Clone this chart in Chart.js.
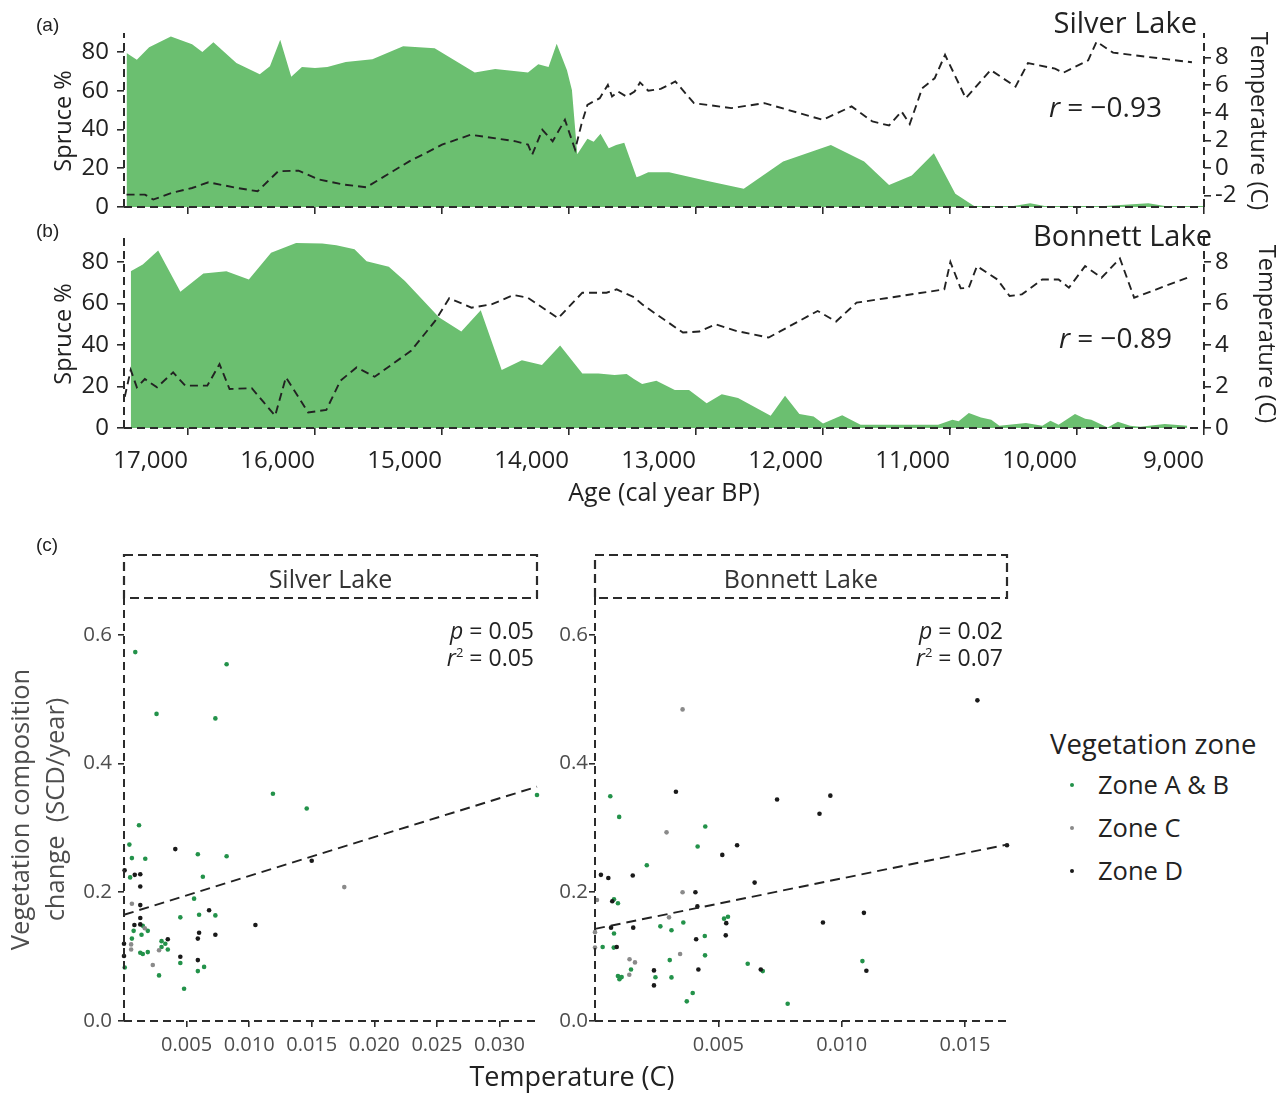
<!DOCTYPE html>
<html>
<head>
<meta charset="utf-8">
<script src="https://cdn.jsdelivr.net/npm/chart.js@4.4.1/dist/chart.umd.min.js"></script>
<style>
body { margin: 0; background: #fff; width: 1288px; height: 1093px; position: relative; overflow: hidden; font-family: "Open Sans", sans-serif; color: #222; }
canvas { position: absolute; }
.lab { position: absolute; white-space: nowrap; line-height: 1; }
.tag { font-family: "Liberation Sans", Arial, sans-serif; font-size: 19px; }
.dot { position: absolute; width: 4px; height: 4px; border-radius: 50%; }
</style>
</head>
<body>
<canvas id="cA" width="1288" height="215" style="left:0;top:0"></canvas>
<canvas id="cB" width="1288" height="300" style="left:0;top:215px"></canvas>
<canvas id="cS" width="560" height="553" style="left:0;top:540px"></canvas>
<canvas id="cN" width="500" height="553" style="left:540px;top:540px"></canvas>

<div class="lab tag" style="left:36px;top:15px">(a)</div>
<div class="lab tag" style="left:36px;top:221px">(b)</div>
<div class="lab tag" style="left:36px;top:535px">(c)</div>

<div class="lab" style="right:91px;top:7px;font-size:29px">Silver Lake</div>
<div class="lab" style="right:126px;top:92px;font-size:28px"><i>r</i> = −0.93</div>
<div class="lab" style="right:76px;top:220px;font-size:29px">Bonnett Lake</div>
<div class="lab" style="right:116px;top:323px;font-size:28px"><i>r</i> = −0.89</div>

<div class="lab" style="right:754px;top:619px;font-size:23px"><i>p</i> = 0.05</div>
<div class="lab" style="right:754px;top:646px;font-size:23px"><i>r</i><sup style="font-size:13px">2</sup> = 0.05</div>
<div class="lab" style="right:285px;top:619px;font-size:23px"><i>p</i> = 0.02</div>
<div class="lab" style="right:285px;top:646px;font-size:23px"><i>r</i><sup style="font-size:13px">2</sup> = 0.07</div>

<div class="lab" style="left:572px;top:1062px;font-size:27px;transform:translateX(-50%)">Temperature (C)</div>

<div class="lab" style="left:1050px;top:730px;font-size:27.5px">Vegetation zone</div>
<div class="dot" style="left:1070px;top:783px;background:#23924a"></div>
<div class="lab" style="left:1098px;top:772px;font-size:25.5px">Zone A &amp; B</div>
<div class="dot" style="left:1070px;top:826px;background:#8a8a8a"></div>
<div class="lab" style="left:1098px;top:815px;font-size:25.5px">Zone C</div>
<div class="dot" style="left:1070px;top:869px;background:#1a1a1a"></div>
<div class="lab" style="left:1098px;top:858px;font-size:25.5px">Zone D</div>

<script>
// tick values
const ageTicks = [17000, 16000, 15000, 14000, 13000, 12000, 11000, 10000, 9000];
const spruceTicks = [0, 20, 40, 60, 80];
const silverTempTicks = [-2, 0, 2, 4, 6, 8];
const bonnettTempTicks = [0, 2, 4, 6, 8];
const scdTicks = [0, 0.2, 0.4, 0.6];
const silverDiffTicks = [0.005, 0.010, 0.015, 0.020, 0.025, 0.030];
const bonnettDiffTicks = [0.005, 0.010, 0.015];

// (a) Silver Lake
const silverSpruceAge = [17484, 17403, 17306, 17135, 16968, 16887, 16800, 16619, 16435, 16355, 16274, 16187, 16103, 16000, 15903, 15758, 15548, 15306, 15058, 14742, 14581, 14323, 14242, 14161, 14097, 14016, 13977, 13935, 13855, 13806, 13752, 13687, 13629, 13565, 13468, 13441, 13376, 13212, 12918, 12624, 12314, 11938, 11676, 11480, 11301, 11127, 10958, 10810, 10500, 10369, 10255, 9781, 9438, 9307, 8997];
const silverSpruce = [79.5, 76, 82.5, 88, 84, 80, 85, 74.4, 68.6, 72.7, 86.3, 67.2, 72.3, 71.8, 72.3, 74.9, 76.3, 83, 82, 69.4, 71.3, 69.4, 73.7, 72.3, 84.3, 70.6, 60.4, 27.2, 35.2, 33.7, 37.8, 30.3, 32, 33.2, 15.3, 16, 17.9, 17.9, 13.6, 9.4, 23.5, 32, 23.5, 11.4, 16.2, 27.7, 6.8, 0.5, 0.5, 2, 0.5, 0.5, 2, 0.5, 0.5];
const silverTempAge = [17484, 17339, 17274, 17129, 16968, 16839, 16613, 16452, 16290, 16129, 15968, 15774, 15597, 15387, 15258, 15129, 15000, 14774, 14419, 14323, 14290, 14210, 14129, 14032, 13952, 13903, 13855, 13758, 13694, 13661, 13613, 13548, 13484, 13441, 13376, 13278, 13163, 13016, 12722, 12461, 12003, 11775, 11611, 11480, 11382, 11317, 11219, 11121, 11039, 10876, 10680, 10484, 10386, 10173, 10108, 9912, 9846, 9716, 9095];
const silverTemp = [-1.93, -1.93, -2.29, -1.81, -1.45, -1.04, -1.45, -1.69, -0.24, -0.19, -0.84, -1.2, -1.4, -0.24, 0.48, 1.08, 1.69, 2.41, 1.93, 1.69, 0.96, 2.77, 1.93, 3.49, 1.33, 3.13, 4.58, 5.06, 6.02, 5.18, 5.54, 5.18, 5.54, 6.2, 5.6, 5.73, 6.27, 4.7, 4.34, 4.7, 3.49, 4.46, 3.37, 3.08, 4.1, 3.18, 5.78, 6.5, 8.2, 5.06, 7.1, 5.9, 7.6, 7.2, 6.9, 7.8, 9.16, 8.36, 7.66];

// (b) Bonnett Lake
const bonnettSpruceAge = [17451, 17356, 17235, 17060, 16879, 16698, 16521, 16346, 16149, 15943, 15832, 15689, 15594, 15419, 15292, 15022, 14848, 14695, 14530, 14371, 14213, 14070, 13895, 13768, 13641, 13546, 13489, 13424, 13312, 13167, 13055, 12916, 12797, 12669, 12412, 12299, 12186, 12074, 12000, 11849, 11704, 11093, 10981, 10932, 10852, 10756, 10675, 10611, 10402, 10273, 10209, 10145, 10016, 9936, 9887, 9759, 9678, 9582, 9502, 9309, 9132];
const bonnettSpruce = [75.6, 78.8, 85.6, 65.7, 74.4, 75.6, 71.6, 84.5, 89.1, 88.9, 88.1, 86.1, 80.4, 77.7, 70.8, 53.2, 46.5, 56.7, 27.9, 32.7, 30.4, 39.7, 26.3, 26.3, 25.6, 26, 23.6, 21.2, 22.8, 18.3, 18.3, 11.9, 16.3, 14.4, 5.9, 15.5, 6.7, 5.6, 2.2, 6.1, 1.6, 1.6, 4, 3.2, 7.2, 5.1, 4, 1.1, 2.4, 1.1, 3.5, 1.6, 6.7, 4.5, 4, 0.3, 3, 1.1, 0.6, 1.9, 1.1];
const bonnettTempAge = [17498, 17451, 17403, 17340, 17244, 17117, 17022, 16848, 16752, 16673, 16498, 16403, 16314, 16229, 16054, 15911, 15800, 15673, 15530, 15244, 15054, 14943, 14768, 14610, 14435, 14324, 14086, 13895, 13705, 13625, 13489, 13424, 13312, 13103, 12974, 12846, 12685, 12428, 12042, 11897, 11736, 11045, 10997, 10916, 10852, 10788, 10627, 10531, 10434, 10273, 10145, 10064, 9936, 9807, 9662, 9550, 9132];
const bonnettTemp = [1.5, 2.8, 1.96, 2.36, 1.96, 2.68, 2.04, 2.04, 3.08, 1.88, 1.92, 1.23, 0.59, 2.44, 0.75, 0.87, 2.28, 2.92, 2.47, 3.72, 5.16, 6.25, 5.8, 5.96, 6.41, 6.28, 5.29, 6.52, 6.52, 6.68, 6.31, 5.96, 5.48, 4.6, 4.65, 5.0, 4.68, 4.36, 5.64, 5.13, 6.04, 6.68, 8.0, 6.73, 6.76, 7.8, 7.16, 6.36, 6.44, 7.16, 7.16, 6.76, 7.8, 7.24, 8.17, 6.28, 7.24];

// (c) temperature change vs vegetation change, [x, y]
const silverZoneAB = [[0.0009, 0.573], [0.0082, 0.554], [0.0026, 0.477], [0.0073, 0.470], [0.0119, 0.353], [0.0146, 0.330], [0.0012, 0.304], [0.033, 0.351], [0.00043, 0.274], [0.00063, 0.253], [0.0017, 0.252], [0.0059, 0.259], [0.0082, 0.256], [0.00049, 0.223], [0.0063, 0.224], [0.0056, 0.190], [0.0045, 0.161], [0.006, 0.165], [0.0073, 0.164], [0.0015, 0.148], [0.0019, 0.140], [0.00077, 0.140], [0.0014, 0.134], [0.003, 0.124], [0.0033, 0.120], [0.003, 0.115], [0.0035, 0.111], [0.00063, 0.128], [0.0013, 0.106], [0.0015, 0.104], [0.0019, 0.107], [0.0045, 0.090], [0.00006, 0.083], [0.0064, 0.084], [0.0059, 0.0775], [0.0028, 0.0708], [0.0048, 0.050]];
const silverZoneC = [[0.0176, 0.208], [0.00063, 0.182], [0.00166, 0.144], [0.00057, 0.119], [0.00057, 0.111], [0.0028, 0.110], [0.0023, 0.087]];
const silverZoneD = [[0.0041, 0.267], [0.00005, 0.234], [0.00086, 0.227], [0.0013, 0.228], [0.0013, 0.209], [0.015, 0.249], [0.0013, 0.180], [0.0068, 0.172], [0.0013, 0.160], [0.00083, 0.149], [0.0013, 0.150], [0.0105, 0.149], [0.006, 0.137], [0.0059, 0.128], [0.0073, 0.134], [0.0035, 0.127], [0.0, 0.12], [0.0, 0.101], [0.0045, 0.0997], [0.0059, 0.0946]];
const silverFit = [[0, 0.165], [0.033, 0.364]];

const bonnettZoneAB = [[0.00062, 0.349], [0.00098, 0.317], [0.00447, 0.302], [0.00416, 0.271], [0.0021, 0.242], [0.00077, 0.189], [0.00093, 0.183], [0.00523, 0.159], [0.00539, 0.162], [0.00358, 0.153], [0.00265, 0.147], [0.0031, 0.141], [0.00077, 0.136], [0.00445, 0.132], [0.00031, 0.115], [0.00076, 0.114], [0.00446, 0.102], [0.00303, 0.0946], [0.00619, 0.089], [0.01084, 0.093], [0.0068, 0.0775], [0.00146, 0.080], [0.00093, 0.0698], [0.00108, 0.0682], [0.00099, 0.065], [0.00245, 0.068], [0.0031, 0.0677], [0.00396, 0.0434], [0.00372, 0.0305], [0.00781, 0.0269]];
const bonnettZoneC = [[0.00355, 0.484], [0.0029, 0.293], [0.00355, 0.200], [0.00008, 0.188], [0.003, 0.161], [0, 0.138], [0, 0.114], [0.00345, 0.104], [0.0014, 0.096], [0.00162, 0.091], [0.00139, 0.0718]];
const bonnettZoneD = [[0.0155, 0.498], [0.00328, 0.356], [0.00738, 0.344], [0.00954, 0.35], [0.0091, 0.322], [0.00516, 0.258], [0.00576, 0.273], [0.00024, 0.227], [0.00054, 0.222], [0.00153, 0.226], [0.00647, 0.215], [0.00407, 0.200], [0.0007, 0.186], [0.00415, 0.178], [0.0109, 0.168], [0.00924, 0.153], [0.00532, 0.152], [0.00065, 0.145], [0.00155, 0.145], [0.0053, 0.133], [0.0041, 0.127], [0.00088, 0.115], [0.011, 0.078], [0.00672, 0.080], [0.00419, 0.080], [0.00239, 0.0786], [0.00239, 0.0553], [0.0167, 0.273]];
const bonnettFit = [[0, 0.143], [0.0167, 0.274]];

Chart.defaults.font.family = '"Open Sans", sans-serif';
Chart.defaults.color = '#222';

const GREEN_AREA = '#6bbf70';
const DARK = '#2b2b2b';

function xy(xs, ys) { return xs.map((x, i) => ({ x: x, y: ys[i] })); }
function pairs(list) { return list.map(p => ({ x: p[0], y: p[1] })); }
function useTicks(vals) { return s => { s.ticks = vals.map(v => ({ value: v })); }; }

function axis(pos, min, max, vals, opt) {
  return {
    type: 'linear', position: pos, min: min, max: max, reverse: !!opt.reverse,
    afterBuildTicks: useTicks(vals),
    afterFit: s => {
      if (opt.w != null) s.width = opt.w;
      if (opt.h != null) s.height = opt.h;
      s.paddingTop = 0; s.paddingBottom = 0; s.paddingLeft = 0; s.paddingRight = 0;
    },
    border: { display: false },
    grid: { display: true, drawOnChartArea: false, drawTicks: true, tickLength: opt.tl || 7, color: DARK, lineWidth: 1.6 },
    ticks: {
      display: opt.labels !== false, autoSkip: false, maxRotation: 0,
      padding: opt.pad == null ? 8 : opt.pad, align: opt.align || 'center',
      color: opt.tcolor || '#222', font: { size: opt.tsize || 24 },
      callback: opt.fmt || (v => String(v))
    },
    title: opt.title ? {
      display: true, text: opt.title, color: opt.ttcolor || '#222',
      font: { size: opt.ttsize || 23.5, lineHeight: opt.lh || 1.2 }, padding: opt.tpad
    } : { display: false }
  };
}

// dashed axis lines along the plot area edges
const dashedAxes = {
  id: 'dashedAxes',
  afterDatasetsDraw(chart) {
    const ctx = chart.ctx;
    ctx.save();
    ctx.setLineDash([8, 5]);
    ctx.lineWidth = 2;
    ctx.strokeStyle = DARK;
    Object.values(chart.scales).forEach(s => {
      ctx.beginPath();
      if (s.position === 'left') { ctx.moveTo(s.right, s.bottom); ctx.lineTo(s.right, s.top - 2); }
      else if (s.position === 'right') { ctx.moveTo(s.left, s.bottom); ctx.lineTo(s.left, s.top - 2); }
      else { ctx.moveTo(s.left, s.top); ctx.lineTo(s.right, s.top); }
      ctx.stroke();
    });
    ctx.restore();
  }
};

function tsLine(data, axisId) {
  return { type: 'line', data: data, yAxisID: axisId, borderColor: '#222', borderWidth: 1.9,
    borderDash: [8, 5], pointRadius: 0, fill: false, tension: 0 };
}
function sprArea(data) {
  return { type: 'line', data: data, yAxisID: 'y', backgroundColor: GREEN_AREA, borderWidth: 0,
    borderColor: GREEN_AREA, pointRadius: 0, fill: 'origin', tension: 0 };
}

const common = { responsive: false, animation: false, devicePixelRatio: 1,
  plugins: { legend: { display: false }, tooltip: { enabled: false } } };

// (a)
new Chart(document.getElementById('cA'), {
  type: 'line',
  data: { datasets: [ tsLine(xy(silverTempAge, silverTemp), 'yT'), sprArea(xy(silverSpruceAge, silverSpruce)) ] },
  plugins: [dashedAxes],
  options: Object.assign({}, common, {
    layout: { padding: { top: 35, left: 0, right: 0, bottom: 0 } },
    scales: {
      x: axis('bottom', 9000, 17504, ageTicks, { reverse: true, labels: false, h: 8 }),
      y: axis('left', 0, 88.8, spruceTicks, { w: 124, pad: 8, title: 'Spruce %', tpad: { top: 50 } }),
      yT: axis('right', -2.83, 9.64, silverTempTicks, { w: 84, pad: 4, title: 'Temperature (C)', tpad: { top: 16 } })
    }
  })
});

// (b)
new Chart(document.getElementById('cB'), {
  type: 'line',
  data: { datasets: [ tsLine(xy(bonnettTempAge, bonnettTemp), 'yT'), sprArea(xy(bonnettSpruceAge, bonnettSpruce)) ] },
  plugins: [dashedAxes],
  options: Object.assign({}, common, {
    layout: { padding: { top: 25, left: 0, right: 0, bottom: 0 } },
    scales: {
      x: axis('bottom', 9000, 17504, ageTicks, { reverse: true, h: 87, align: 'end', pad: 12,
        fmt: v => v.toLocaleString('en-US'), title: 'Age (cal year BP)', ttsize: 25, tpad: { bottom: 6 } }),
      y: axis('left', 0, 90.6, spruceTicks, { w: 124, pad: 8, title: 'Spruce %', tpad: { top: 50 } }),
      yT: axis('right', 0, 9.06, bonnettTempTicks, { w: 84, pad: 4, title: 'Temperature (C)', tpad: { top: 8 } })
    }
  })
});

// facet strip drawn above the plot area
const stripPlugin = {
  id: 'strip',
  afterDraw(chart, args, opts) {
    const a = chart.chartArea, ctx = chart.ctx;
    ctx.save();
    ctx.setLineDash([9, 5]);
    ctx.lineWidth = 2.2;
    ctx.strokeStyle = DARK;
    ctx.strokeRect(a.left, a.top - 43, a.right - a.left, 43);
    ctx.setLineDash([]);
    ctx.fillStyle = '#333';
    ctx.font = '25px "Open Sans"';
    ctx.textAlign = 'center';
    ctx.textBaseline = 'middle';
    ctx.fillText(opts.text, (a.left + a.right) / 2, a.top - 17);
    ctx.restore();
  }
};

function zone(list, color) {
  return { type: 'scatter', data: pairs(list), backgroundColor: color, borderWidth: 0,
    pointRadius: 2.3, clip: false };
}
function fitLine(list) {
  return { type: 'line', data: pairs(list), borderColor: '#222', borderWidth: 1.9,
    borderDash: [10, 6], pointRadius: 0, fill: false, clip: false };
}

function scatterChart(id, name, ab, c, d, fit, xmax, xt, pad, yw, ytitle) {
  return new Chart(document.getElementById(id), {
    type: 'scatter',
    data: { datasets: [ fitLine(fit), zone(d, '#1a1a1a'), zone(c, '#8a8a8a'), zone(ab, '#23924a') ] },
    plugins: [stripPlugin, dashedAxes],
    options: Object.assign({}, common, {
      layout: { padding: pad },
      plugins: { legend: { display: false }, tooltip: { enabled: false }, strip: { text: name } },
      scales: {
        x: axis('bottom', 0, xmax, xt, { h: 72, tl: 6, pad: 6, tsize: 20, tcolor: '#4d4d4d',
          fmt: v => v.toFixed(3) }),
        y: axis('left', 0, 0.657, scdTicks, { w: yw, tl: 6, pad: ytitle ? 6 : 1, tsize: 20.5, tcolor: '#4d4d4d',
          fmt: v => v.toFixed(1), title: ytitle, ttcolor: '#4d4d4d', ttsize: 25.5, lh: 1.37, tpad: { top: 4.5 } })
      }
    })
  });
}

scatterChart('cS', 'Silver Lake', silverZoneAB, silverZoneC, silverZoneD, silverFit, 0.033, silverDiffTicks,
  { top: 58, right: 23, left: 0, bottom: 0 }, 124, ['Vegetation composition', 'change  (SCD/year)']);
scatterChart('cN', 'Bonnett Lake', bonnettZoneAB, bonnettZoneC, bonnettZoneD, bonnettFit, 0.0167, bonnettDiffTicks,
  { top: 58, right: 33, left: 0, bottom: 0 }, 55, null);
</script>
</body>
</html>
